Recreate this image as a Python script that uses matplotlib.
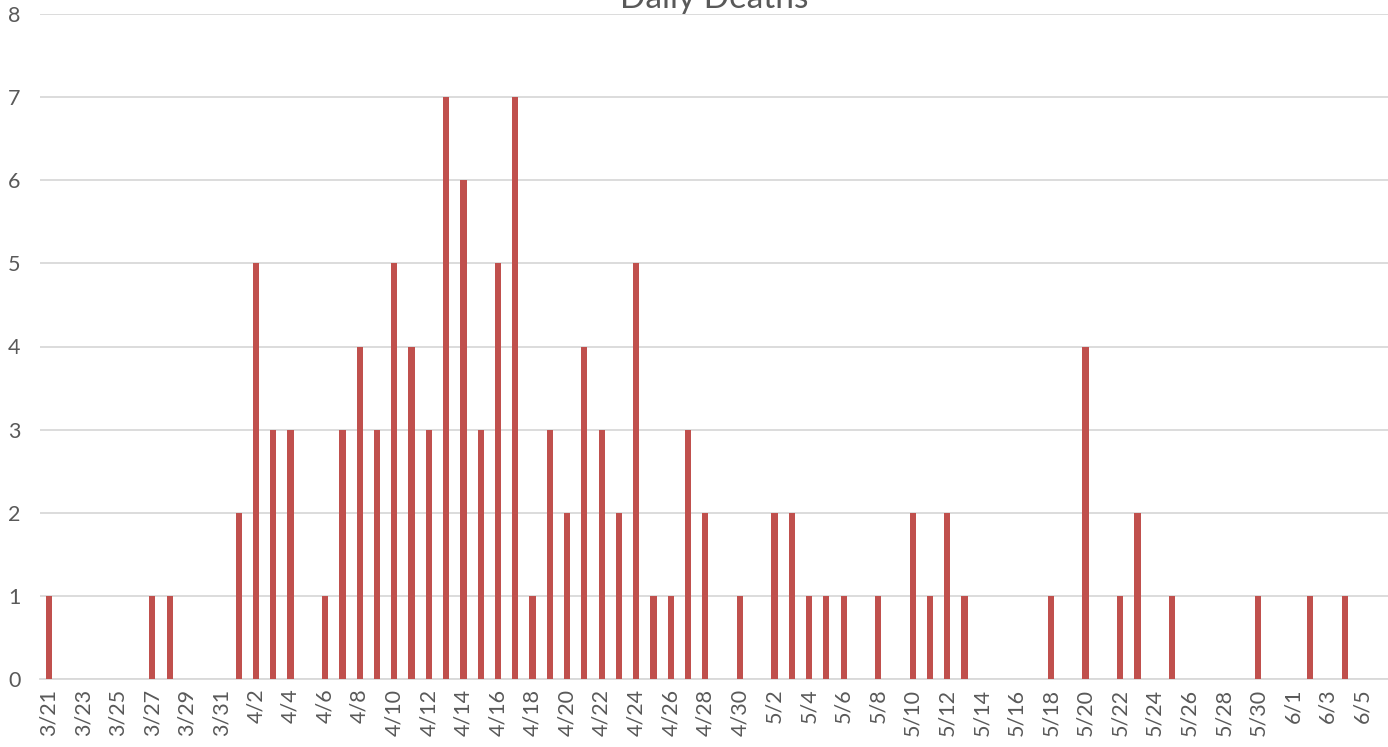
import numpy as np
import pandas as pd
import matplotlib.pyplot as plt

plt.rcParams['font.family'] = ['Lato', 'DejaVu Sans']

# daily deaths, one entry per day from 3/21 to 6/6
dates = pd.date_range('2020-03-21', '2020-06-06', freq='D')
death_days = ['3/21', '3/27', '3/28', '4/1', '4/2', '4/3', '4/4', '4/6', '4/7', '4/8',
              '4/9', '4/10', '4/11', '4/12', '4/13', '4/14', '4/15', '4/16', '4/17',
              '4/18', '4/19', '4/20', '4/21', '4/22', '4/23', '4/24', '4/25', '4/26',
              '4/27', '4/28', '4/30', '5/2', '5/3', '5/4', '5/5', '5/6', '5/8', '5/10',
              '5/11', '5/12', '5/13', '5/18', '5/20', '5/22', '5/23', '5/25', '5/30',
              '6/2', '6/4']
death_counts = [1, 1, 1, 2, 5, 3, 3, 1, 3, 4,
                3, 5, 4, 3, 7, 6, 3, 5, 7,
                1, 3, 2, 4, 3, 2, 5, 1, 1,
                3, 2, 1, 2, 2, 1, 1, 1, 1, 2,
                1, 2, 1, 1, 4, 1, 2, 1, 1,
                1, 1]

labels = [f'{d.month}/{d.day}' for d in dates]
lookup = dict(zip(death_days, death_counts))
values = [lookup.get(l, 0) for l in labels]

fig = plt.figure(figsize=(13.88, 7.47), dpi=100)
ax = fig.add_axes([40/1388, 1 - 679/747, 1348/1388, 665/747])

x = np.arange(len(labels))
ax.bar(x, values, width=0.36, color='#C0504D', zorder=3)

ax.set_xlim(-0.5, len(labels) - 0.5)
ax.set_ylim(0, 8)
ax.set_yticks(range(0, 9))
ax.set_xticks(x[::2])
ax.set_xticklabels(labels[::2], rotation=90)
ax.tick_params(axis='both', length=0, labelsize=15.5, colors='#595959')
ax.tick_params(axis='x', pad=7)
ax.tick_params(axis='y', pad=14)
for lab in ax.get_yticklabels():
    lab.set_horizontalalignment('right')

ax.grid(axis='y', color='#D9D9D9', linewidth=1.3, zorder=0)
for s in ['top', 'right', 'left']:
    ax.spines[s].set_visible(False)
ax.spines['bottom'].set_color('#D9D9D9')
ax.spines['bottom'].set_linewidth(1.3)

ax.set_title('Daily Deaths', fontsize=24, color='#595959', pad=-4)

fig.savefig('out.png', dpi=100)
